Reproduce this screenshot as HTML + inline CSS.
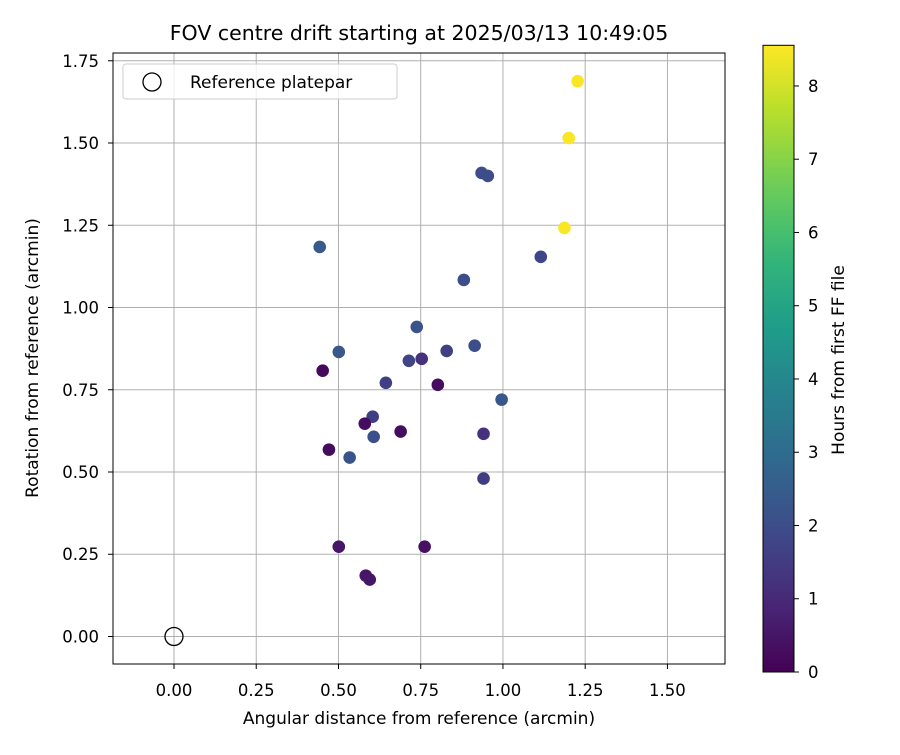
<!DOCTYPE html>
<html><head><meta charset="utf-8"><style>body{margin:0;background:#fff}svg text{font-family:"DejaVu Sans","Liberation Sans",sans-serif;fill:#000}</style></head>
<body>
<svg id="chart" width="900" height="750" xmlns="http://www.w3.org/2000/svg">
<rect width="900" height="750" fill="#fff"/>
<g id="g"></g>
</svg>
<script>
const xs=[1.227,1.200,1.187,0.935,0.954,0.443,1.115,0.881,0.501,0.738,0.714,0.753,0.829,0.914,0.452,0.644,0.802,0.996,0.604,0.580,0.689,0.607,0.941,0.471,0.534,0.941,0.501,0.762,0.583,0.595];
const ys=[1.688,1.515,1.242,1.409,1.400,1.184,1.154,1.084,0.865,0.941,0.838,0.844,0.868,0.884,0.808,0.771,0.765,0.720,0.668,0.647,0.623,0.607,0.616,0.568,0.544,0.480,0.273,0.273,0.185,0.173];
const hours=[8.5,8.5,8.5,2.0,2.0,2.4,1.8,2.0,2.3,2.2,1.7,1.2,1.6,2.0,0.2,1.6,0.3,2.3,1.6,0.3,0.3,2.1,1.2,0.3,2.2,1.5,0.5,0.4,0.5,0.5];
const xTicks=[0,0.25,0.5,0.75,1.0,1.25,1.5];
const yTicks=[0,0.25,0.5,0.75,1.0,1.25,1.5,1.75];
const cTicks=[0,1,2,3,4,5,6,7,8];
const NS='http://www.w3.org/2000/svg',g=document.getElementById('g');
const L=113,R=725,T=53,B=664,xmin=-0.1854,xmax=1.675,ymin=-0.0836,ymax=1.7736;
const X=v=>L+(v-xmin)/(xmax-xmin)*(R-L),Y=v=>B-(v-ymin)/(ymax-ymin)*(B-T);
const CL=763,CR=794,CT=45.3,CB=672,cmax=8.555,C=v=>CB-v/cmax*(CB-CT);
function el(t,a,txt){const e=document.createElementNS(NS,t);for(const k in a)e.setAttribute(k,a[k]);if(txt!=null)e.textContent=txt;g.appendChild(e);return e;}
const vir=[[68,1,84],[72,40,120],[62,74,137],[49,104,142],[38,130,142],[31,158,137],[53,183,121],[109,205,89],[180,222,44],[253,231,37]];
function cmap(t){t=Math.max(0,Math.min(1,t))*9;const i=Math.min(8,Math.floor(t)),f=t-i,a=vir[i],b=vir[i+1];return `rgb(${a.map((v,k)=>Math.round(v+(b[k]-v)*f)).join(',')})`;}
xTicks.forEach(v=>{let e=el('line',{x1:X(v),x2:X(v),y1:T,y2:B,stroke:'#b0b0b0','stroke-width':1});
el('line',{x1:X(v),x2:X(v),y1:B,y2:B+5,stroke:'#000'});
e=el('text',{x:X(v),y:B+32,'text-anchor':'middle','font-size':'16.5'},v.toFixed(2));});
yTicks.forEach(v=>{let e=el('line',{x1:L,x2:R,y1:Y(v),y2:Y(v),stroke:'#b0b0b0','stroke-width':1});
el('line',{x1:L-5,x2:L,y1:Y(v),y2:Y(v),stroke:'#000'});
e=el('text',{x:L-14,y:Y(v)+6,'text-anchor':'end','font-size':'16.5'},v.toFixed(2));});
xs.forEach((v,i)=>{const e=el('circle',{cx:X(v),cy:Y(ys[i]),r:6.3,fill:cmap(hours[i]/cmax)});});
let r=el('circle',{cx:X(0),cy:Y(0),r:9,fill:'none',stroke:'#000','stroke-width':1.3});
r=el('rect',{x:L,y:T,width:R-L,height:B-T,fill:'none',stroke:'#000','stroke-width':1});
r=el('rect',{x:123,y:64,width:274,height:35,rx:3,fill:'#fff','fill-opacity':0.8,stroke:'#ccc'});
el('circle',{cx:152,cy:82,r:9,fill:'none',stroke:'#000','stroke-width':1.3});
r=el('text',{x:190,y:88,'font-size':'17'},'Reference platepar');
r=el('text',{x:419,y:40,'text-anchor':'middle','font-size':'20.5'},'FOV centre drift starting at 2025/03/13 10:49:05');
r=el('text',{x:419,y:724,'text-anchor':'middle','font-size':'17'},'Angular distance from reference (arcmin)');
r=el('text',{x:38,y:358,'text-anchor':'middle','font-size':'17',transform:'rotate(-90 38 358)'},'Rotation from reference (arcmin)');
const defs=document.createElementNS(NS,'defs');g.appendChild(defs);
const lg=document.createElementNS(NS,'linearGradient');lg.setAttribute('id','vg');lg.setAttribute('x1','0');lg.setAttribute('y1','1');lg.setAttribute('x2','0');lg.setAttribute('y2','0');defs.appendChild(lg);
for(let i=0;i<=20;i++){const s=document.createElementNS(NS,'stop');s.setAttribute('offset',i/20);s.setAttribute('stop-color',cmap(i/20));lg.appendChild(s);}
r=el('rect',{x:CL,y:CT,width:CR-CL,height:CB-CT,fill:'url(#vg)',stroke:'#000','stroke-width':1});
cTicks.forEach(v=>{el('line',{x1:CR,x2:CR+5,y1:C(v),y2:C(v),stroke:'#000'});const e=el('text',{x:CR+14,y:C(v)+6,'font-size':'16.5'},String(v));});
r=el('text',{x:844,y:360,'text-anchor':'middle','font-size':'17',transform:'rotate(-90 844 360)'},'Hours from first FF file');
</script>
</body></html>
